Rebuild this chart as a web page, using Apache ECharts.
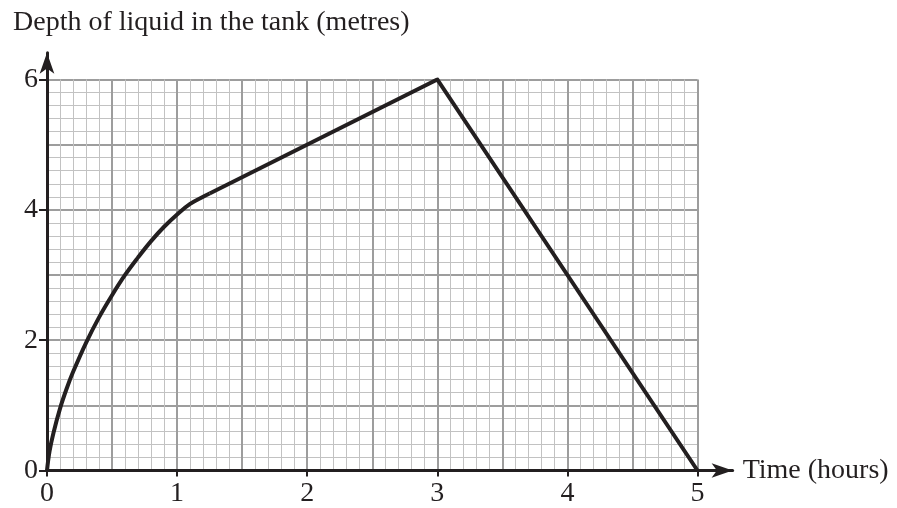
<!DOCTYPE html>
<html>
<head>
<meta charset="utf-8">
<style>
  html, body { margin: 0; padding: 0; background: #fff; }
  #main { width: 897px; height: 508px; }
</style>
<script src="https://cdn.jsdelivr.net/npm/echarts@6/dist/echarts.min.js"></script>
</head>
<body>
<div id="main"></div>
<script>
// 数据：曲线部分（0 ~ 1.25 小时）
const curveX = [0, 0.02, 0.05, 0.1, 0.15, 0.2, 0.3, 0.4, 0.5, 0.6, 0.7, 0.8, 0.9, 1.0, 1.1, 1.2, 1.25];
const curveY = [0, 0.3, 0.58, 0.95, 1.25, 1.51, 1.96, 2.35, 2.69, 3.0, 3.27, 3.52, 3.74, 3.93, 4.09, 4.2, 4.25];
// 直线部分
const lineX = [1.25, 3, 5];
const lineY = [4.25, 6, 0];
// 刻度
const xTicks = [0, 1, 2, 3, 4, 5];
const yTicks = [0, 2, 4, 6];

const titleText = 'Depth of liquid in the tank (metres)';
const xName = 'Time (hours)';

const ink = '#231f20';
const font = 'Liberation Serif';

let chart = echarts.init(document.getElementById('main'));

// 像素比例
const x0 = 47, pxX = 130.1;
const y0 = 470.5, pxY = 65.17;
const xEnd = 5.27, yEnd = 6.41;

chart.setOption({
    animation: false,
    title: {
        text: titleText,
        left: 8,
        top: 4,
        textStyle: { fontFamily: font, fontSize: 28, fontWeight: 'normal', color: ink }
    },
    grid: [
        // 网格区域
        { left: x0, top: y0 - 6 * pxY, width: 5 * pxX, height: 6 * pxY },
        // 坐标轴（带箭头）
        { left: x0, top: y0 - yEnd * pxY, width: xEnd * pxX, height: yEnd * pxY }
    ],
    xAxis: [
        {
            gridIndex: 0, type: 'value', min: 0, max: 5, interval: 0.5,
            axisLine: { show: false }, axisTick: { show: false }, axisLabel: { show: false },
            splitLine: { show: true, lineStyle: { color: '#9d9d9d', width: 2 } },
            minorTick: { show: false, splitNumber: 5 },
            minorSplitLine: { show: true, lineStyle: { color: '#c2c2c2', width: 1 } }
        },
        {
            gridIndex: 1, type: 'value', min: 0, max: xEnd,
            name: xName, nameLocation: 'end', nameGap: 10,
            nameTextStyle: { fontFamily: font, fontSize: 28, color: ink, verticalAlign: 'middle' },
            axisLine: {
                show: true, symbol: ['none', 'arrow'], symbolSize: [11, 21],
                lineStyle: { color: ink, width: 3 }
            },
            axisTick: { show: true, length: 6, customValues: xTicks, lineStyle: { color: ink, width: 2 } },
            axisLabel: {
                customValues: xTicks, margin: 9,
                fontFamily: font, fontSize: 28, color: ink
            },
            splitLine: { show: false }
        }
    ],
    yAxis: [
        {
            gridIndex: 0, type: 'value', min: 0, max: 6, interval: 1,
            axisLine: { show: false }, axisTick: { show: false }, axisLabel: { show: false },
            splitLine: { show: true, lineStyle: { color: '#9d9d9d', width: 2 } },
            minorTick: { show: false, splitNumber: 5 },
            minorSplitLine: { show: true, lineStyle: { color: '#c2c2c2', width: 1 } }
        },
        {
            gridIndex: 1, type: 'value', min: 0, max: yEnd,
            axisLine: {
                show: true, symbol: ['none', 'arrow'], symbolSize: [11, 21],
                lineStyle: { color: ink, width: 3 }
            },
            axisTick: { show: true, length: 8, customValues: yTicks, lineStyle: { color: ink, width: 2 } },
            axisLabel: {
                customValues: yTicks, margin: 9,
                fontFamily: font, fontSize: 28, color: ink
            },
            splitLine: { show: false }
        }
    ],
    series: [
        {
            type: 'line', xAxisIndex: 0, yAxisIndex: 0,
            data: curveX.map(function (v, i) { return [v, curveY[i]]; }),
            smooth: 0.4, showSymbol: false, z: 5,
            lineStyle: { color: ink, width: 4 }
        },
        {
            type: 'line', xAxisIndex: 0, yAxisIndex: 0,
            data: lineX.map(function (v, i) { return [v, lineY[i]]; }),
            showSymbol: false, z: 5,
            lineStyle: { color: ink, width: 4, join: 'miter' }
        }
    ]
});
</script>
</body>
</html>
